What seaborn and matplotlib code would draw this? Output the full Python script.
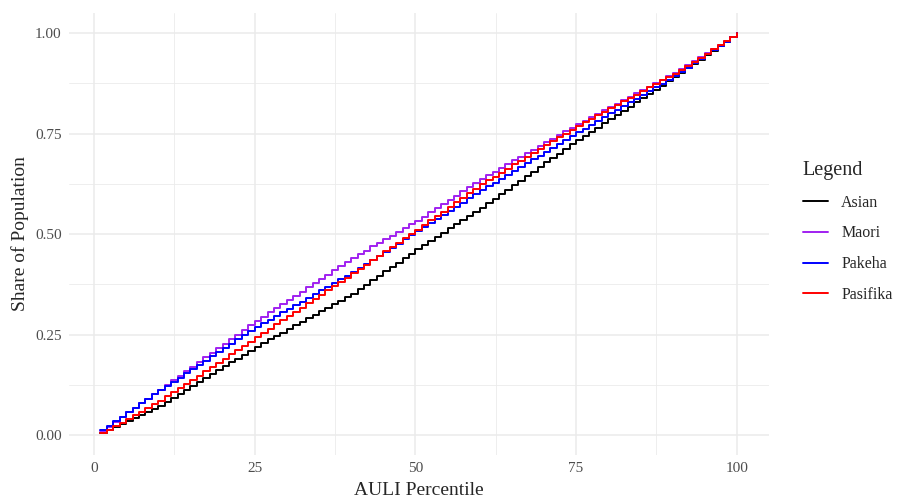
import numpy as np
import pandas as pd
import matplotlib
matplotlib.use("Agg")
import matplotlib.pyplot as plt
import seaborn as sns

percentile = list(range(1, 101))

asian = [0.005, 0.012, 0.020, 0.027, 0.035, 0.042, 0.050, 0.057, 0.065, 0.072,
         0.082, 0.092, 0.102, 0.111, 0.121, 0.131, 0.141, 0.151, 0.161, 0.171,
         0.181, 0.190, 0.200, 0.210, 0.220, 0.229, 0.238, 0.246, 0.255, 0.264,
         0.273, 0.282, 0.290, 0.299, 0.308, 0.317, 0.326, 0.334, 0.343, 0.352,
         0.363, 0.374, 0.385, 0.396, 0.407, 0.418, 0.429, 0.440, 0.451, 0.462,
         0.472, 0.483, 0.493, 0.503, 0.514, 0.524, 0.534, 0.544, 0.555, 0.565,
         0.576, 0.588, 0.599, 0.610, 0.621, 0.633, 0.644, 0.655, 0.666, 0.678,
         0.689, 0.700, 0.711, 0.723, 0.734, 0.744, 0.755, 0.765, 0.776, 0.786,
         0.796, 0.807, 0.817, 0.828, 0.838, 0.848, 0.859, 0.869, 0.880, 0.890,
         0.901, 0.912, 0.923, 0.934, 0.945, 0.956, 0.967, 0.978, 0.989, 1.000]

maori = [0.010, 0.021, 0.033, 0.044, 0.056, 0.067, 0.079, 0.090, 0.102, 0.113,
         0.124, 0.136, 0.147, 0.159, 0.170, 0.181, 0.193, 0.204, 0.216, 0.227,
         0.238, 0.250, 0.261, 0.273, 0.284, 0.294, 0.305, 0.315, 0.326, 0.336,
         0.347, 0.357, 0.368, 0.378, 0.389, 0.399, 0.410, 0.420, 0.431, 0.441,
         0.450, 0.459, 0.469, 0.478, 0.487, 0.496, 0.505, 0.515, 0.524, 0.533,
         0.543, 0.554, 0.564, 0.575, 0.585, 0.595, 0.606, 0.616, 0.627, 0.637,
         0.646, 0.655, 0.664, 0.674, 0.683, 0.692, 0.701, 0.710, 0.719, 0.728,
         0.737, 0.747, 0.756, 0.765, 0.774, 0.782, 0.791, 0.799, 0.808, 0.816,
         0.824, 0.833, 0.841, 0.850, 0.858, 0.866, 0.875, 0.883, 0.892, 0.900,
         0.910, 0.920, 0.930, 0.940, 0.950, 0.960, 0.970, 0.980, 0.990, 1.000]

pakeha = [0.012, 0.023, 0.034, 0.045, 0.056, 0.068, 0.079, 0.090, 0.101, 0.112,
          0.122, 0.133, 0.143, 0.154, 0.164, 0.175, 0.185, 0.196, 0.206, 0.217,
          0.227, 0.238, 0.248, 0.259, 0.269, 0.278, 0.287, 0.296, 0.305, 0.314,
          0.323, 0.332, 0.342, 0.351, 0.360, 0.369, 0.378, 0.387, 0.396, 0.405,
          0.415, 0.425, 0.436, 0.446, 0.456, 0.466, 0.476, 0.487, 0.497, 0.507,
          0.517, 0.527, 0.538, 0.548, 0.558, 0.568, 0.578, 0.589, 0.599, 0.609,
          0.619, 0.628, 0.638, 0.647, 0.657, 0.667, 0.676, 0.686, 0.695, 0.705,
          0.715, 0.724, 0.734, 0.743, 0.753, 0.762, 0.772, 0.781, 0.790, 0.800,
          0.809, 0.818, 0.828, 0.837, 0.846, 0.856, 0.865, 0.874, 0.884, 0.893,
          0.904, 0.914, 0.925, 0.936, 0.947, 0.957, 0.968, 0.979, 0.989, 1.000]

pasifika = [0.004, 0.013, 0.022, 0.031, 0.040, 0.049, 0.058, 0.067, 0.076, 0.085,
            0.096, 0.106, 0.117, 0.127, 0.138, 0.148, 0.159, 0.169, 0.180, 0.190,
            0.201, 0.211, 0.222, 0.232, 0.243, 0.254, 0.264, 0.275, 0.285, 0.296,
            0.307, 0.317, 0.328, 0.338, 0.349, 0.360, 0.370, 0.381, 0.391, 0.402,
            0.413, 0.424, 0.435, 0.446, 0.457, 0.467, 0.478, 0.489, 0.500, 0.511,
            0.522, 0.534, 0.545, 0.556, 0.568, 0.579, 0.590, 0.601, 0.613, 0.624,
            0.634, 0.643, 0.653, 0.663, 0.673, 0.682, 0.692, 0.702, 0.712, 0.721,
            0.731, 0.741, 0.750, 0.760, 0.770, 0.779, 0.787, 0.796, 0.804, 0.813,
            0.822, 0.830, 0.839, 0.847, 0.856, 0.865, 0.873, 0.882, 0.890, 0.899,
            0.909, 0.919, 0.929, 0.939, 0.949, 0.960, 0.970, 0.980, 0.990, 1.000]

groups = ["Asian", "Maori", "Pakeha", "Pasifika"]
colors = {"Asian": "#000000", "Maori": "#A020F0", "Pakeha": "#0000FF", "Pasifika": "#FF0000"}

df = pd.concat([
    pd.DataFrame({"pct": percentile, "share": vals, "group": g})
    for g, vals in zip(groups, [asian, maori, pakeha, pasifika])
])

sns.set_style("white")
plt.rcParams["font.family"] = ["Liberation Serif", "DejaVu Serif"]

fig = plt.figure(figsize=(8.99, 4.99), dpi=100)
ax = fig.add_axes([0.0763, 0.088, 0.855 - 0.0763, 0.974 - 0.088])

sns.lineplot(data=df, x="pct", y="share", hue="group", hue_order=groups,
             palette=colors, drawstyle="steps-post", linewidth=1.4, ax=ax)

ax.set_xlim(-3.95, 104.95)
ax.set_ylim(-0.05, 1.05)
ax.set_xticks([0, 25, 50, 75, 100])
ax.set_yticks([0, 0.25, 0.5, 0.75, 1.0])
ax.set_yticklabels(["0.00", "0.25", "0.50", "0.75", "1.00"])
ax.set_xticks([12.5, 37.5, 62.5, 87.5], minor=True)
ax.set_yticks([0.125, 0.375, 0.625, 0.875], minor=True)
ax.grid(which="major", color="#EBEBEB", linewidth=1.1)
ax.grid(which="minor", color="#EBEBEB", linewidth=0.6)
ax.set_axisbelow(True)
for s in ax.spines.values():
    s.set_visible(False)
ax.tick_params(which="both", length=0)
ax.tick_params(axis="both", labelsize=11, labelcolor="#4D4D4D", pad=5)

ax.set_xlabel("AULI Percentile", fontsize=14, labelpad=5)
ax.set_ylabel("Share of Population", fontsize=14, labelpad=4)

ax.get_legend().remove()
handles, labels = ax.get_legend_handles_labels()
leg = fig.legend(handles, labels, title="Legend", loc="upper left",
                 bbox_to_anchor=(0.877, 0.706), frameon=False,
                 fontsize=11.5, title_fontsize=14.5, handlelength=1.6,
                 handletextpad=0.8, labelspacing=0.92)
leg._legend_box.align = "left"

fig.savefig("out.png", dpi=100)
